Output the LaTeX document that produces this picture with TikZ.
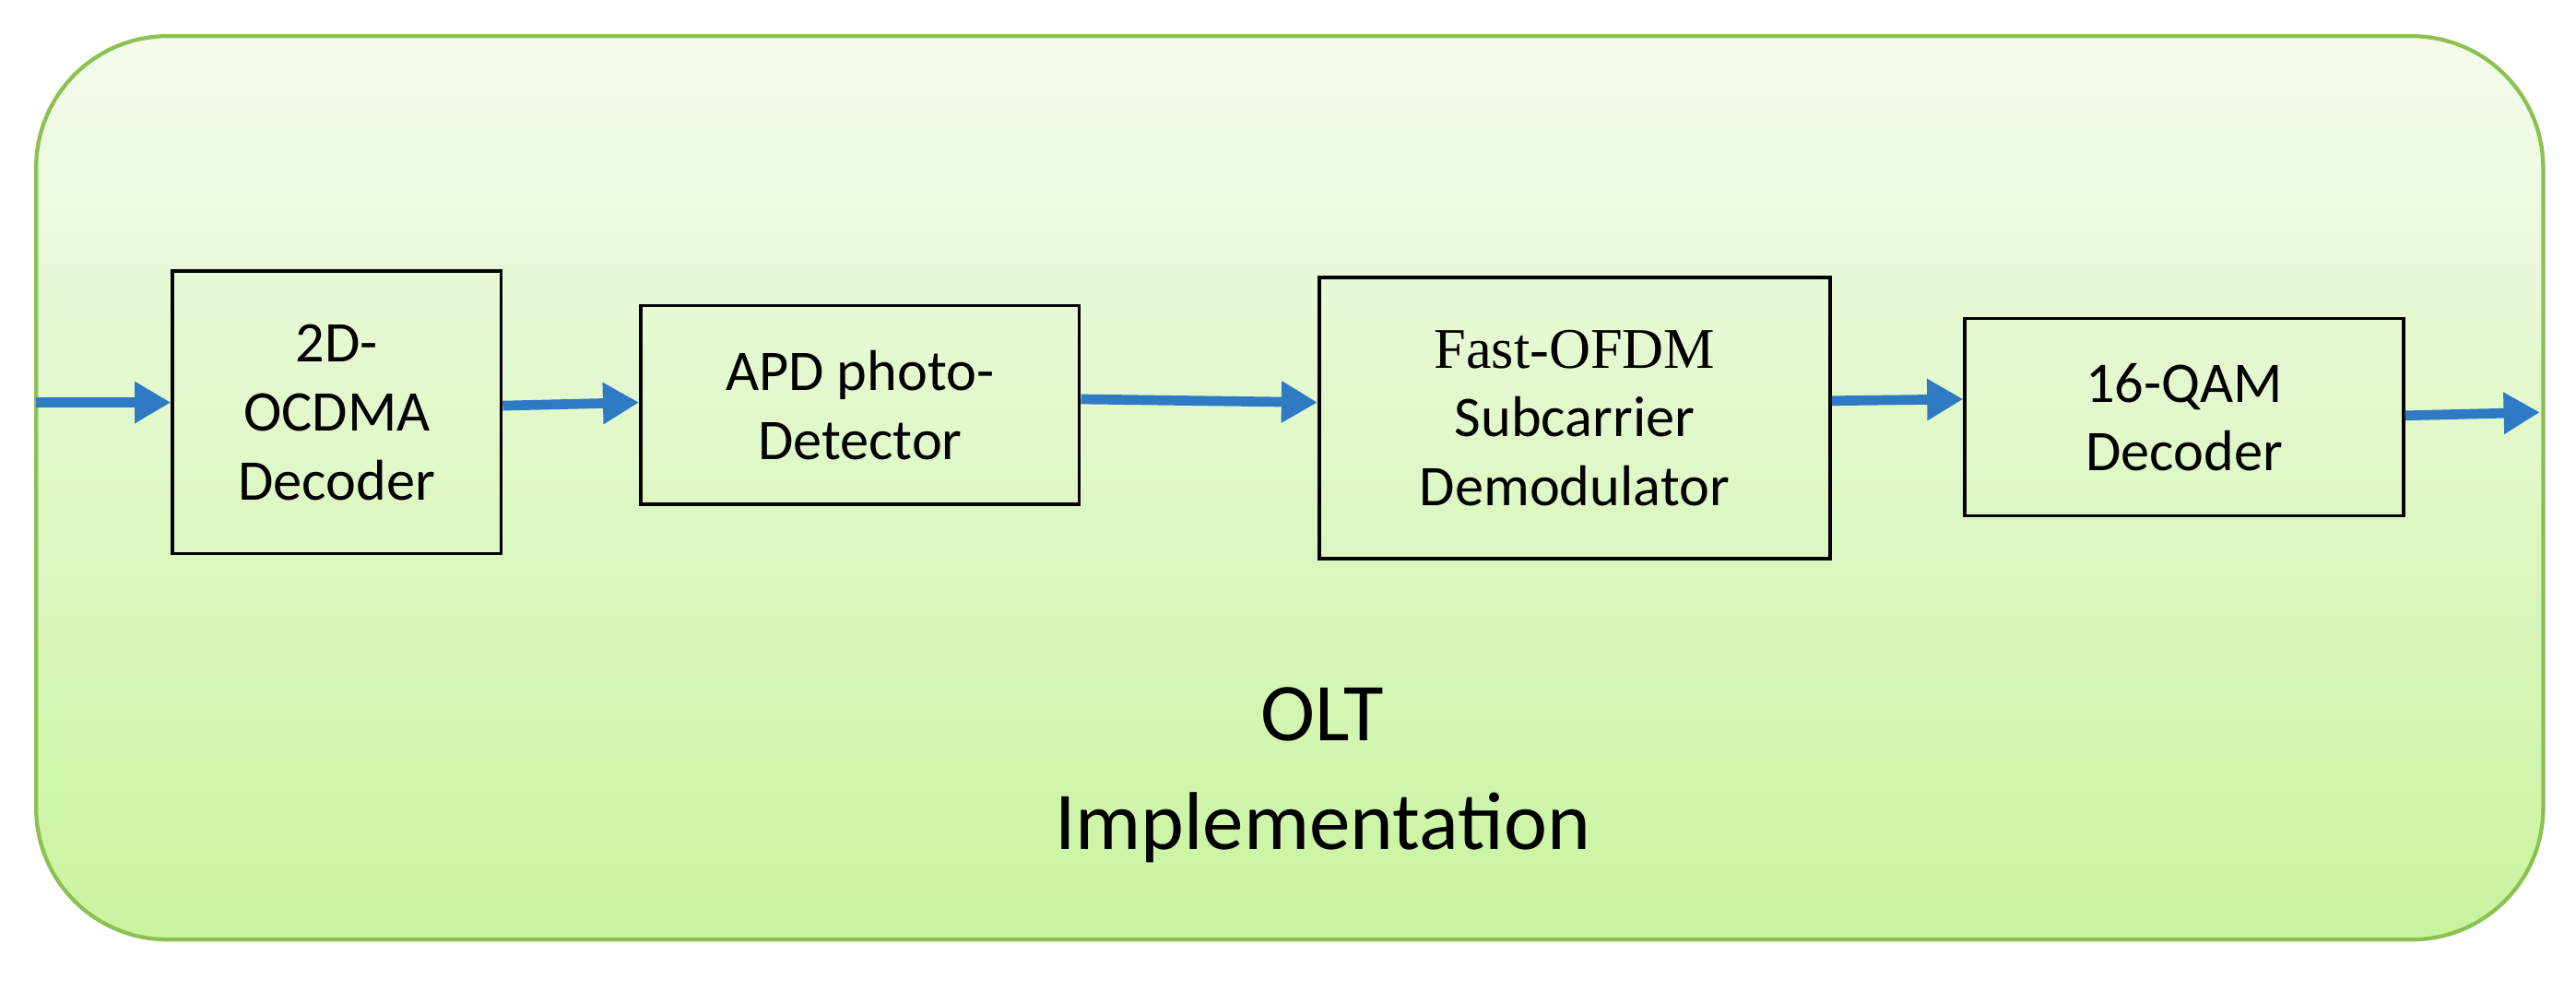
\documentclass[tikz,border=0pt]{standalone}
\usepackage{fontspec}
\setmainfont{Carlito}
\newfontfamily\serifface{Liberation Serif}
\usetikzlibrary{arrows.meta}
\definecolor{topg}{HTML}{F4FBEC}
\definecolor{botg}{HTML}{C8F49E}
\definecolor{edgeg}{HTML}{8CC152}
\definecolor{arr}{HTML}{2E7BC4}
\tikzset{blk/.style={draw=black,line width=1pt,align=center,font=\fontsize{17.5}{21}\selectfont,inner sep=0pt},
 flow/.style={draw=arr,line width=3pt,-{Triangle[length=11pt,width=12pt]}}}
\begin{document}
\begin{tikzpicture}[x=0.5pt,y=-0.5pt]
\useasboundingbox (0,0) rectangle (1568,603);
\shade[top color=topg,bottom color=botg,draw=edgeg,line width=1.2pt,rounded corners=40pt] (22,22) rectangle (1548,572);
\node[blk,minimum width=100pt,minimum height=86pt] (b1) at (205,251) {2D-\\OCDMA\\Decoder};
\node[blk,minimum width=133.5pt,minimum height=60.5pt] (b2) at (523.5,246.5) {APD photo-\\Detector};
\node[blk,minimum width=155.5pt,minimum height=85.5pt] (b3) at (958.5,254.5) {{\serifface Fast-OFDM}\\Subcarrier\\Demodulator};
\node[blk,minimum width=133.5pt,minimum height=60pt] (b4) at (1329.5,254) {16-QAM\\Decoder};
\coordinate (in) at (22,245);
\coordinate (out) at (1546,251);
\draw[flow] (in) -- (b1.west|-in);
\draw[flow] (b1.east|-0,247) -- (b2.west|-0,245);
\draw[flow] (b2.east|-0,243) -- (b3.west|-0,245);
\draw[flow] (b3.east|-0,244) -- (b4.west|-0,243);
\draw[flow] (b4.east|-0,253) -- (out);
\node[font=\fontsize{25}{33}\selectfont,align=center] (t) at (805,472) {OLT\\Implementation};
\end{tikzpicture}
\end{document}
